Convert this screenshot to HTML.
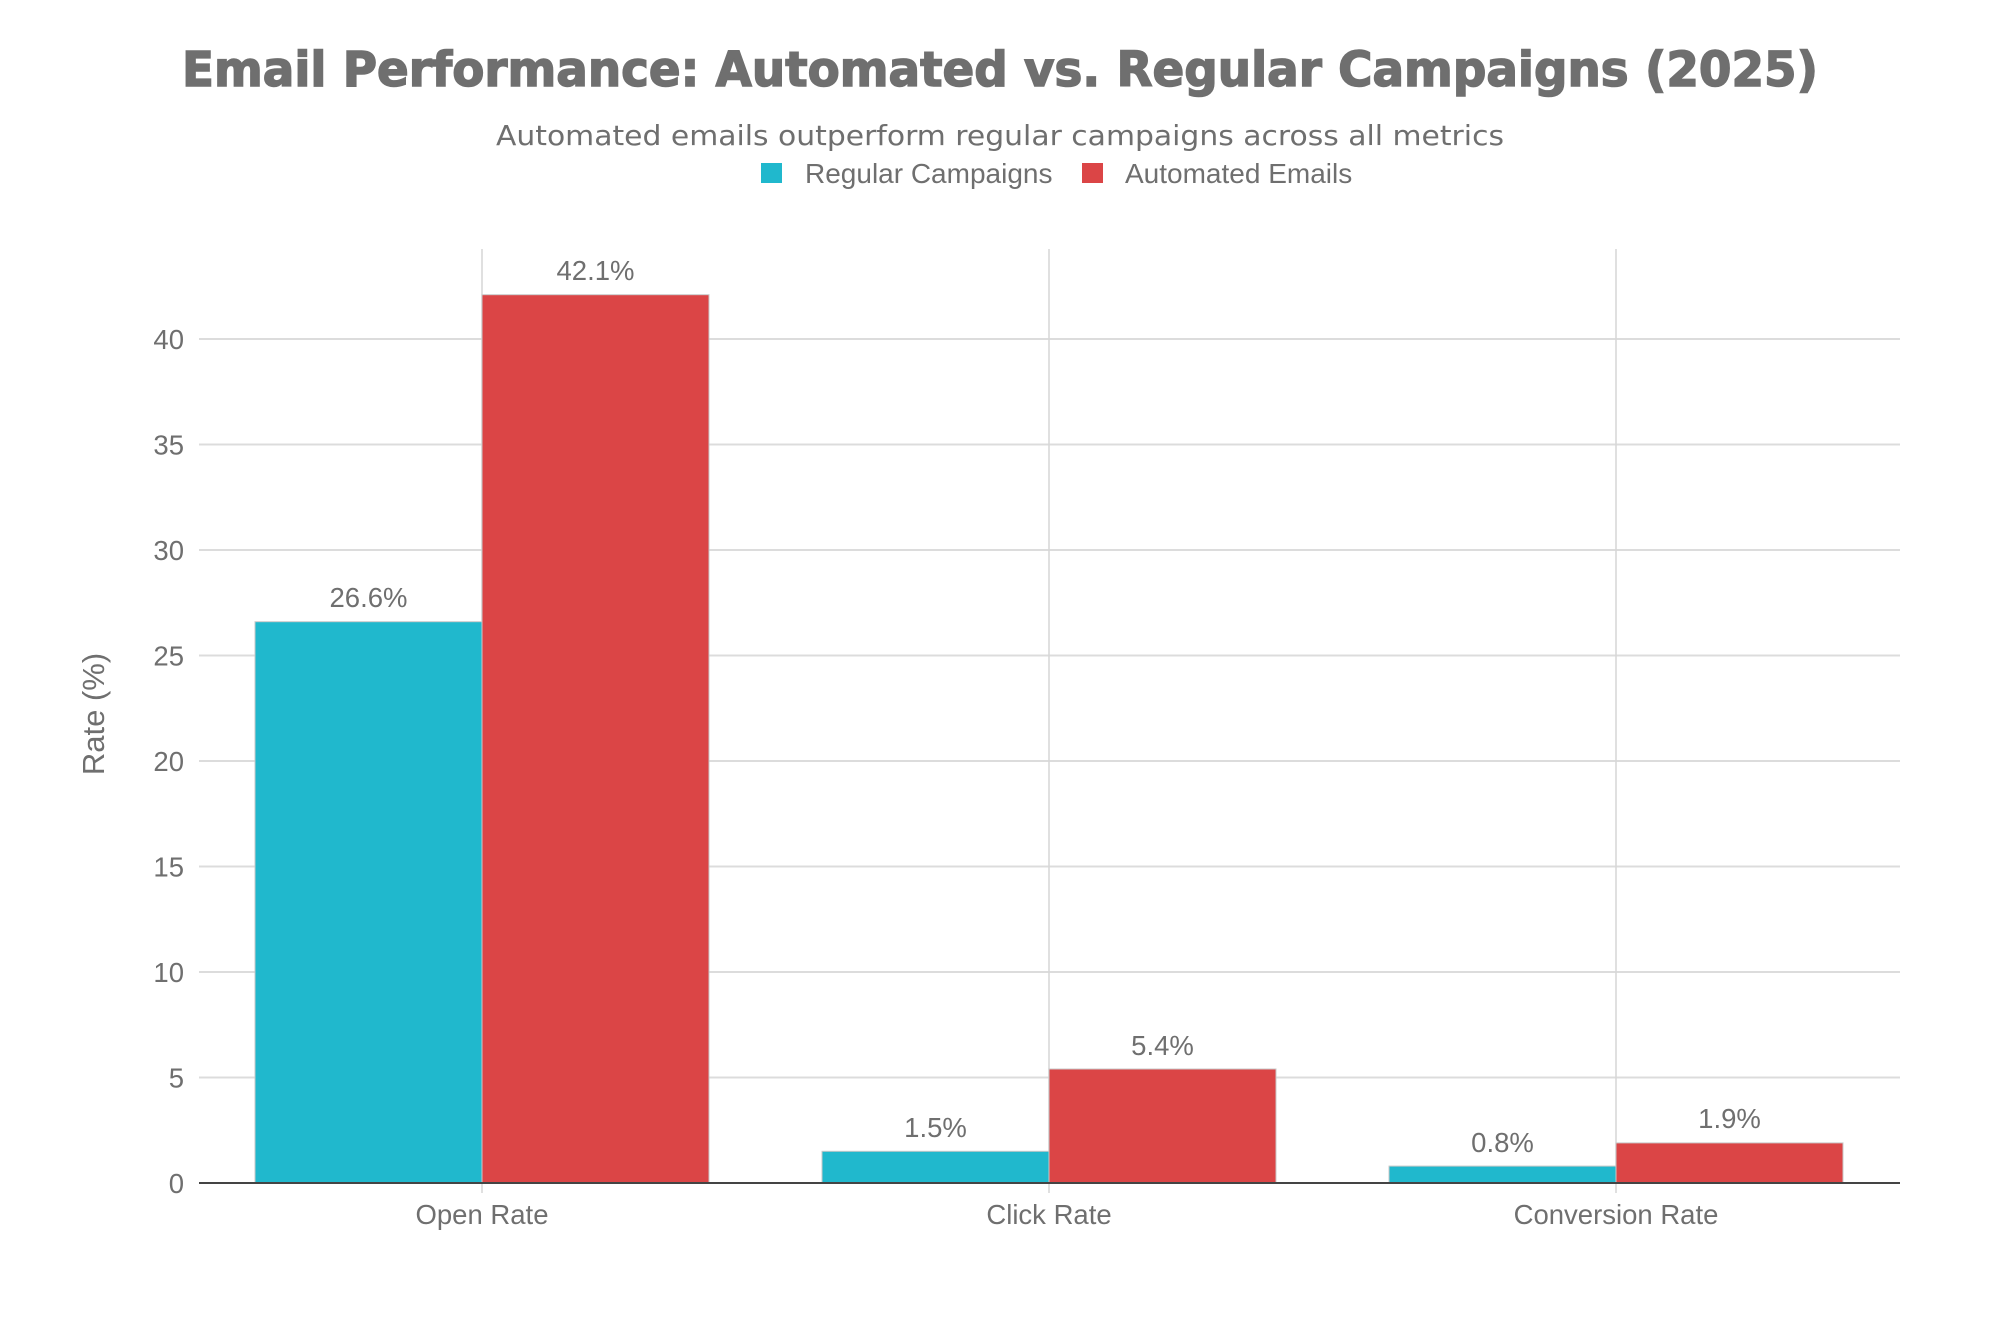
<!DOCTYPE html>
<html><head><meta charset="utf-8"><style>html,body{margin:0;padding:0;background:#fff}svg{display:block}</style></head>
<body>
<svg width="1999" height="1333" viewBox="0 0 1999 1333" xmlns="http://www.w3.org/2000/svg">
<g fill="#6f6f6f">
<text x="1000" y="86" font-family="DejaVu Sans" font-weight="bold" font-size="48" text-anchor="middle" textLength="1636" lengthAdjust="spacingAndGlyphs" stroke="#6f6f6f" stroke-width="1.5">Email Performance: Automated vs. Regular Campaigns (2025)</text>
<text x="1000" y="145" font-family="DejaVu Sans" font-size="28" text-anchor="middle" textLength="1008" lengthAdjust="spacingAndGlyphs">Automated emails outperform regular campaigns across all metrics</text>
</g>
<rect x="761" y="163" width="21" height="20" fill="#20b8cd"/>
<text x="805" y="183" font-family="Liberation Sans" font-size="28" fill="#6f6f6f">Regular Campaigns</text>
<rect x="1082" y="163" width="21" height="20" fill="#db4546"/>
<text x="1125" y="183" font-family="Liberation Sans" font-size="28" fill="#6f6f6f">Automated Emails</text>
<g stroke="#dcdcdc" stroke-width="2">
<line x1="199" x2="1900" y1="1077.5" y2="1077.5"/>
<line x1="199" x2="1900" y1="972" y2="972"/>
<line x1="199" x2="1900" y1="866.5" y2="866.5"/>
<line x1="199" x2="1900" y1="761" y2="761"/>
<line x1="199" x2="1900" y1="655.5" y2="655.5"/>
<line x1="199" x2="1900" y1="550" y2="550"/>
<line x1="199" x2="1900" y1="444.5" y2="444.5"/>
<line x1="199" x2="1900" y1="339" y2="339"/>
</g>
<g stroke="#d6d6d6" stroke-width="1.5">
<line x1="482" x2="482" y1="249" y2="1193"/>
<line x1="1049" x2="1049" y1="249" y2="1193"/>
<line x1="1616" x2="1616" y1="249" y2="1193"/>
</g>
<g stroke="#c8c8c8" stroke-width="1">
<rect x="255" y="621.7" width="227" height="561.3" fill="#20b8cd"/>
<rect x="482" y="294.7" width="227" height="888.3" fill="#db4546"/>
<rect x="822" y="1151.3" width="227" height="31.7" fill="#20b8cd"/>
<rect x="1049" y="1069" width="227" height="114" fill="#db4546"/>
<rect x="1389" y="1166.1" width="227" height="16.9" fill="#20b8cd"/>
<rect x="1616" y="1142.9" width="227" height="40.1" fill="#db4546"/>
</g>
<line x1="199" x2="1900" y1="1183" y2="1183" stroke="#444" stroke-width="2"/>
<g font-family="Liberation Sans" font-size="27.5" fill="#6f6f6f" text-anchor="middle">
<text x="368.5" y="607">26.6%</text>
<text x="595.5" y="280">42.1%</text>
<text x="935.5" y="1137">1.5%</text>
<text x="1162.5" y="1055">5.4%</text>
<text x="1502.5" y="1152">0.8%</text>
<text x="1729.5" y="1128">1.9%</text>
<text x="482" y="1224">Open Rate</text>
<text x="1049" y="1224">Click Rate</text>
<text x="1616" y="1224">Conversion Rate</text>
</g>
<g font-family="Liberation Sans" font-size="27.5" fill="#6f6f6f" text-anchor="end">
<text x="184" y="1193">0</text>
<text x="184" y="1087.5">5</text>
<text x="184" y="982">10</text>
<text x="184" y="876.5">15</text>
<text x="184" y="771">20</text>
<text x="184" y="665.5">25</text>
<text x="184" y="560">30</text>
<text x="184" y="454.5">35</text>
<text x="184" y="349">40</text>
</g>
<text transform="translate(104,714) rotate(-90)" font-family="Liberation Sans" font-size="31" fill="#6f6f6f" text-anchor="middle">Rate (%)</text>
</svg>
</body></html>
